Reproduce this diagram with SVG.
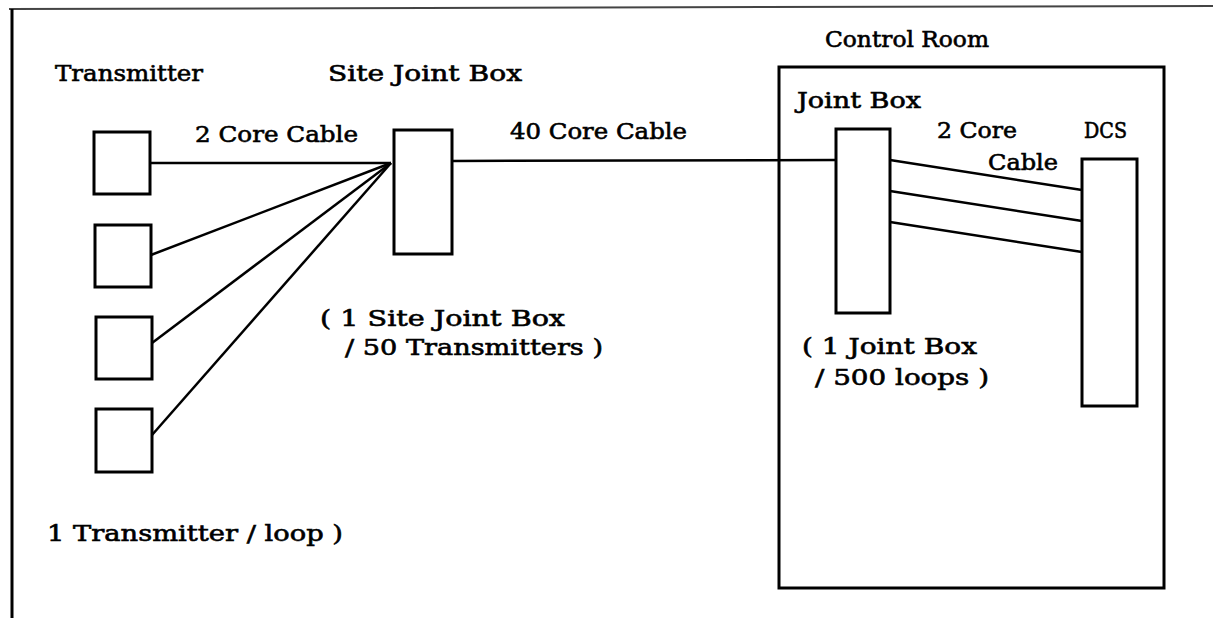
<svg xmlns="http://www.w3.org/2000/svg" width="1213" height="618" viewBox="0 0 1213 618">
<style>
  .box { fill: #fff; stroke: #000; stroke-width: 3; }
  .wire { stroke: #000; stroke-width: 2.5; fill: none; }
  .frame { stroke: #000; stroke-width: 3; fill: none; }
  text { font-family: "DejaVu Serif", "Liberation Serif", serif; font-size: 22px; fill: #000; stroke: #000; stroke-width: 0.6; }
</style>
<rect width="1213" height="618" fill="#fff"/>
<g id="frame">
  <line x1="9" y1="9" x2="1213" y2="6" stroke="#444" stroke-width="2"/>
  <line x1="12" y1="9" x2="12" y2="618" class="frame"/>
</g>
<g id="connectors">
  <line class="wire" x1="150" y1="163" x2="391" y2="163"/>
  <line class="wire" x1="151" y1="255" x2="391" y2="163"/>
  <line class="wire" x1="152" y1="343" x2="391" y2="163"/>
  <line class="wire" x1="152" y1="435" x2="391" y2="163"/>
  <line class="wire" x1="452" y1="161" x2="836" y2="160"/>
  <line class="wire" x1="890" y1="160" x2="1082" y2="190"/>
  <line class="wire" x1="890" y1="191" x2="1082" y2="221"/>
  <line class="wire" x1="890" y1="222" x2="1082" y2="252"/>
</g>
<g id="transmitter-1"><rect class="box" x="94" y="132" width="56" height="62"/></g>
<g id="transmitter-2"><rect class="box" x="95" y="225" width="56" height="62"/></g>
<g id="transmitter-3"><rect class="box" x="96" y="317" width="56" height="62"/></g>
<g id="transmitter-4"><rect class="box" x="96" y="409" width="56" height="63"/></g>
<g id="site-joint-box"><rect class="box" x="394" y="130" width="58" height="124"/></g>
<g id="control-room"><rect class="frame" x="779" y="67" width="385" height="521"/></g>
<g id="joint-box"><rect class="box" x="836" y="129" width="54" height="184"/></g>
<g id="dcs"><rect class="box" x="1082" y="159" width="55" height="247"/></g>
<g id="labels">
  <text x="55" y="81" textLength="148" lengthAdjust="spacingAndGlyphs">Transmitter</text>
  <text x="328" y="81" textLength="194" lengthAdjust="spacingAndGlyphs">Site Joint Box</text>
  <text x="195" y="142" textLength="163" lengthAdjust="spacingAndGlyphs">2 Core Cable</text>
  <text x="510" y="139" textLength="177" lengthAdjust="spacingAndGlyphs">40 Core Cable</text>
  <text x="825" y="47" textLength="164" lengthAdjust="spacingAndGlyphs">Control Room</text>
  <text x="797" y="108" textLength="124" lengthAdjust="spacingAndGlyphs">Joint Box</text>
  <text x="937" y="138" textLength="80" lengthAdjust="spacingAndGlyphs">2 Core</text>
  <text x="988" y="170" textLength="70" lengthAdjust="spacingAndGlyphs">Cable</text>
  <text x="1084" y="138" textLength="43" lengthAdjust="spacingAndGlyphs">DCS</text>
  <text x="320" y="326" textLength="245" lengthAdjust="spacingAndGlyphs">( 1 Site Joint Box</text>
  <text x="345" y="355" textLength="258" lengthAdjust="spacingAndGlyphs">/ 50 Transmitters )</text>
  <text x="47" y="541" textLength="296" lengthAdjust="spacingAndGlyphs">1 Transmitter / loop )</text>
  <text x="802" y="354" textLength="175" lengthAdjust="spacingAndGlyphs">( 1 Joint Box</text>
  <text x="815" y="385" textLength="174" lengthAdjust="spacingAndGlyphs">/ 500 loops )</text>
</g>
</svg>
